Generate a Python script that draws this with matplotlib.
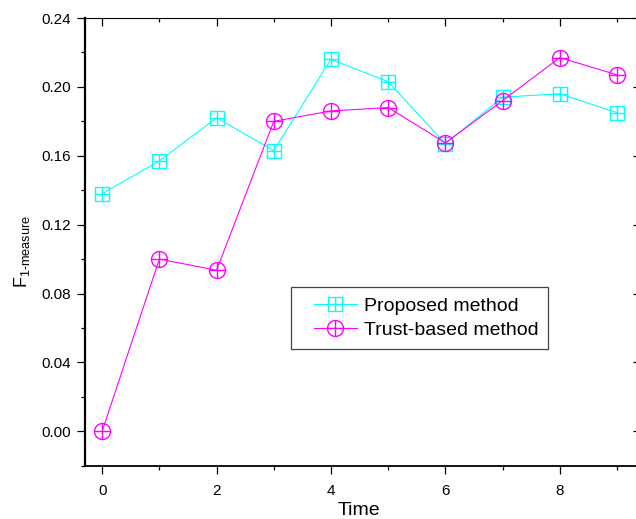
import matplotlib
matplotlib.use("Agg")
import matplotlib.pyplot as plt
from matplotlib.ticker import MultipleLocator, FormatStrFormatter
from matplotlib.legend_handler import HandlerTuple

plt.rcParams['font.family'] = ['Liberation Sans', 'DejaVu Sans']
plt.rcParams['mathtext.fontset'] = 'custom'
plt.rcParams['mathtext.rm'] = 'Liberation Sans'
plt.rcParams['mathtext.it'] = 'Liberation Sans'

time = [0, 1, 2, 3, 4, 5, 6, 7, 8, 9]
proposed = [0.138, 0.157, 0.182, 0.163, 0.216, 0.203, 0.167, 0.194, 0.196, 0.185]
trust = [0.000, 0.100, 0.0935, 0.180, 0.186, 0.188, 0.1675, 0.192, 0.217, 0.207]
series_labels = ["Proposed method", "Trust-based method"]
xticks = [0, 2, 4, 6, 8]
yticks = [0.00, 0.04, 0.08, 0.12, 0.16, 0.20, 0.24]

W, H = 636, 519
fig = plt.figure(figsize=(W / 100, H / 100), dpi=100)
x0, x1, ytop, ybot = 85, 641, 18, 465.7
ax = fig.add_axes([x0 / W, 1 - ybot / H, (x1 - x0) / W, (ybot - ytop) / H])

cyan = '#00FFFF'
mag = '#FF00FF'
lw = 0.8

p1, = ax.plot(time, proposed, color=cyan, lw=lw, marker='s', ms=10,
              mfc='none', mec=cyan, mew=1.0, zorder=3)
p2, = ax.plot(time, proposed, color=cyan, lw=0, marker='+', ms=10,
              mec=cyan, mew=1.0, zorder=3)
t1, = ax.plot(time, trust, color=mag, lw=lw, marker='o', ms=11.5,
              mfc='none', mec=mag, mew=1.0, zorder=4)
t2, = ax.plot(time, trust, color=mag, lw=0, marker='+', ms=11.5,
              mec=mag, mew=1.0, zorder=4)

ax.set_xlim(-0.3, 9.42)
ax.set_ylim(-0.02, 0.24)
ax.set_xticks(xticks)
ax.set_yticks(yticks)
ax.xaxis.set_minor_locator(MultipleLocator(1))
ax.yaxis.set_minor_locator(MultipleLocator(0.02))
ax.yaxis.set_major_formatter(FormatStrFormatter('%.2f'))

ax.tick_params(axis='both', which='major', labelsize=11, width=0.9, length=6)
ax.tick_params(axis='both', which='minor', width=0.9, length=3)
ax.tick_params(axis='x', which='both', direction='out', top=True)
ax.tick_params(axis='y', which='both', direction='out', right=True)
ax.tick_params(axis='x', which='major', pad=7.5)
ax.tick_params(axis='y', which='major', pad=4)
# top/right ticks inward
for t in ax.xaxis.get_major_ticks() + ax.xaxis.get_minor_ticks():
    t.tick2line.set_marker(3)  # TICKDOWN
for t in ax.yaxis.get_major_ticks() + ax.yaxis.get_minor_ticks():
    t.tick2line.set_marker(0)  # TICKLEFT

ax.spines['left'].set_linewidth(1.6)
ax.spines['bottom'].set_linewidth(1.3)
ax.spines['top'].set_linewidth(0.8)
ax.spines['right'].set_linewidth(0.8)

leg = ax.legend([(p1, p2), (t1, t2)], series_labels,
                handler_map={tuple: HandlerTuple(ndivide=1, xpad=0.7)},
                loc='upper left',
                bbox_to_anchor=((290.7 - x0) / (x1 - x0), (ybot - 287.5) / (ybot - ytop)),
                fontsize=14, frameon=True, fancybox=False, shadow=False,
                edgecolor='#444444', framealpha=1, borderpad=0.5,
                handlelength=2.9, handletextpad=0.35, labelspacing=0.35,
                borderaxespad=0, numpoints=1)
leg.get_frame().set_linewidth(0.9)

fig.text(22 / W, 1 - 251.5 / H, r'F$_{\mathrm{1\text{-}measure}}$', rotation=90,
         ha='center', va='center', fontsize=13)
fig.text(359 / W, 1 - 515 / H, 'Time', ha='center', va='baseline', fontsize=14)

fig.savefig('out.png', dpi=100)
